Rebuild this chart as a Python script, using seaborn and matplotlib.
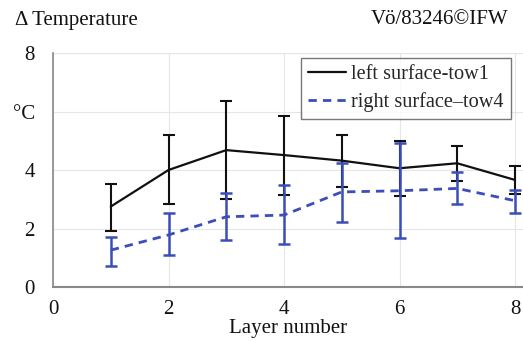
import numpy as np
import pandas as pd
import matplotlib
matplotlib.use("Agg")
import matplotlib.pyplot as plt
import seaborn as sns

layers = [1, 2, 3, 4, 5, 6, 7, 8]
left_mean = [2.75, 4.00, 4.68, 4.51, 4.32, 4.06, 4.23, 3.66]
left_low = [1.93, 2.84, 3.00, 3.15, 3.41, 3.11, 3.63, 3.18]
left_high = [3.52, 5.20, 6.36, 5.86, 5.20, 5.00, 4.82, 4.15]
right_mean = [1.26, 1.78, 2.40, 2.46, 3.25, 3.29, 3.37, 2.95]
right_low = [0.73, 1.08, 1.61, 1.47, 2.21, 1.66, 2.83, 2.54]
right_high = [1.70, 2.52, 3.22, 3.48, 4.25, 4.93, 3.94, 3.32]
series_names = ["left surface-tow1", "right surface\u2013tow4"]
x_ticks = [0, 2, 4, 6, 8]
y_ticks = [0, 2, 4, 6, 8]
y_ticklabels = ["0", "2", "4", "\u00b0C", "8"]

sns.set_theme(style="white")
plt.rcParams["font.family"] = ["Liberation Serif", "DejaVu Serif"]

BLACK = "#111111"
BLUE = "#3b4db8"
FS = 15

df = pd.DataFrame({
    "layer": layers * 2,
    "value": left_mean + right_mean,
    "series": [series_names[0]] * len(layers) + [series_names[1]] * len(layers),
})

fig = plt.figure(figsize=(5.23, 3.41), dpi=100)
ax = fig.add_axes([53 / 523, 1 - 287 / 341, 1 - 53 / 523, (287 - 53) / 341])

ax.grid(True, color="#e6e6e6", linewidth=0.8)
ax.set_axisbelow(True)

ax.errorbar(layers, left_mean,
            yerr=[np.array(left_mean) - np.array(left_low), np.array(left_high) - np.array(left_mean)],
            fmt="none", ecolor=BLACK, elinewidth=1.5, capsize=4, capthick=1.5, zorder=3)
sns.lineplot(data=df, x="layer", y="value", hue="series", style="series",
             palette={series_names[0]: BLACK, series_names[1]: BLUE},
             dashes={series_names[0]: "", series_names[1]: (3, 2.2)},
             linewidth=1.6, ax=ax, legend=True, zorder=4)
ax.errorbar(layers, right_mean,
            yerr=[np.array(right_mean) - np.array(right_low), np.array(right_high) - np.array(right_mean)],
            fmt="none", ecolor=BLUE, elinewidth=1.8, capsize=4, capthick=1.8, zorder=5)

for ln in ax.get_lines():
    if matplotlib.colors.to_hex(ln.get_color()) == BLUE:
        ln.set_linewidth(2.0)

ax.set_xlim(0, (523 - 53) / ((515 - 53) / 8))
ax.set_ylim(0, 8)
ax.set_xticks(x_ticks)
ax.set_yticks(y_ticks)
ax.set_yticklabels(y_ticklabels)
ax.tick_params(axis="both", direction="in", length=5, color="#888888",
               labelsize=FS, labelcolor="#111111")
ax.tick_params(axis="y", pad=13)
ax.tick_params(axis="x", pad=9)
ax.set_xlabel("Layer number", fontsize=FS, color="#111111", labelpad=0)
ax.set_ylabel("")

for s in ["top", "right"]:
    ax.spines[s].set_visible(False)
ax.spines["left"].set_color("#888888")
ax.spines["bottom"].set_color("#888888")
ax.spines["left"].set_linewidth(1.2)
ax.spines["bottom"].set_linewidth(1.5)
ax.plot([0, 1], [1, 1], transform=ax.transAxes, color="#e6e6e6", lw=0.8, zorder=0)

handles, labels = ax.get_legend_handles_labels()
leg = ax.legend(handles, labels, loc="upper right", bbox_to_anchor=(0.985, 1.0),
                fontsize=14.6, frameon=True, fancybox=False, edgecolor="#555555",
                handlelength=1.9, handletextpad=0.25, borderpad=0.35,
                labelspacing=0.38, borderaxespad=0.25)
leg.get_frame().set_linewidth(1.0)
for h in leg.get_lines():
    if matplotlib.colors.to_hex(h.get_color()) == BLUE:
        h.set_linewidth(2.0)

fig.text(15 / 523, 1 - 20 / 341, "\u0394 Temperature", fontsize=FS, va="center", ha="left", color="#111111")
fig.text(508 / 523, 1 - 20 / 341, "V\u00f6/83246\u00a9IFW", fontsize=FS, va="center", ha="right", color="#111111")

fig.savefig("out.png", dpi=100)
